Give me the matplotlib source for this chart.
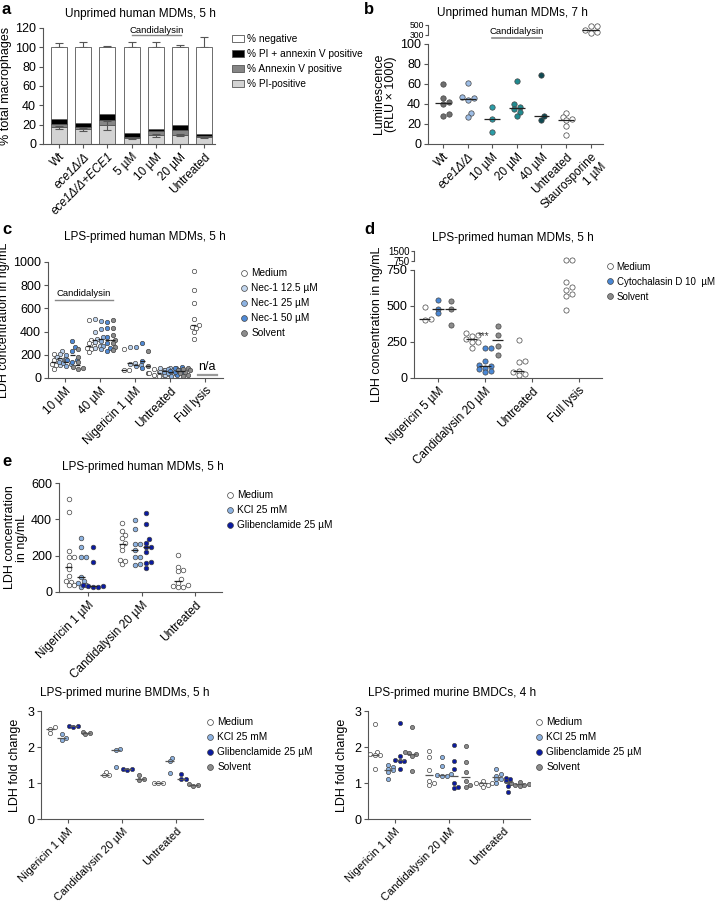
import numpy as np
import matplotlib
matplotlib.use("Agg")
import matplotlib.pyplot as plt
from matplotlib.lines import Line2D
from matplotlib.patches import Patch

plt.rcParams['font.family'] = ['Liberation Sans', 'DejaVu Sans']
plt.rcParams['axes.linewidth'] = 0.8

W, H = 717, 902
fig = plt.figure(figsize=(W / 100, H / 100), dpi=100)

EDGE = '#444444'
SPINE = '#555555'

# ---------------- data ----------------
# a: stacked bars (segment heights)
a_labels = ['Wt', 'ece1Δ/Δ', 'ece1Δ/Δ+ECE1', '5 µM', '10 µM', '20 µM', 'Untreated']
a_pi = [17.4, 15.3, 19.4, 5.9, 9.0, 9.0, 7.6]
a_annexin = [3.4, 2.1, 5.6, 1.7, 4.5, 5.6, 1.1]
a_both = [4.9, 4.1, 6.3, 4.2, 2.1, 5.2, 1.7]
a_both_err = [3.1, 2.1, 0.7, 3.5, 2.8, 1.0, 5.6]
a_pi_err = [1.5, 1.5, 4.5, 1.2, 1.5, 1.2, 1.0]
a_top_err = [4.9, 6.0, 1.4, 5.6, 6.0, 2.8, 10.4]

# b: luminescence (RLU x 1000)
b_labels = ['Wt', 'ece1Δ/Δ', '10 µM', '20 µM', '40 µM', 'Untreated', 'Staurosporine\n1 µM']
b_wt = [60.5, 45.8, 41.8, 40.0, 30.0, 28.0]
b_ece1 = [61.0, 47.0, 46.0, 44.0, 31.0, 27.0]
b_10 = [37.5, 25.5, 12.0]
b_20 = [63.5, 40.0, 37.0, 35.0, 32.5, 28.5]
b_40 = [69.0, 28.0, 24.0]
b_untr = [31.0, 27.5, 25.0, 24.0, 18.0, 9.0]
b_stauro = [480, 475, 400, 360, 340]
b_colors = ['#6e6e6e', '#9dbde6', '#2a9da8', '#1f8a8f', '#0f4a52', 'white', 'white']

# c: LDH ng/mL, subgroups Medium / Nec-1 12.5 / 25 / 50 / Solvent
c_labels = ['10 µM', '40 µM', 'Nigericin 1 µM', 'Untreated', 'Full lysis']
c_series = ['Medium', 'Nec-1 12.5 µM', 'Nec-1 25 µM', 'Nec-1 50 µM', 'Solvent']
c_colors = ['white', '#c2d6ee', '#8db3e2', '#4f8ad6', '#8c8c8c']
c_10 = [[180, 123, 80, 108, 151, 208], [237, 208, 166, 108, 151, 180],
        [200, 160, 130, 100, 140, 120], [317, 266, 237, 151, 137, 151],
        [251, 180, 137, 94, 80, 90]]
c_40 = [[500, 330, 300, 280, 250, 220, 260], [510, 400, 340, 310, 280, 260],
        [490, 420, 350, 320, 280, 250], [480, 430, 350, 300, 260, 230],
        [500, 430, 370, 330, 300, 270, 240]]
c_nig = [[250, 70, 70], [270, 130, 120], [270, 110, 100], [300, 150, 90], [230, 100, 40]]
c_untr = [[20, 30, 45, 60, 70, 35, 25, 80], [30, 50, 70, 85, 90, 40, 60],
          [20, 45, 65, 80, 90, 55, 35], [25, 50, 70, 85, 60, 40, 95],
          [30, 55, 80, 90, 70, 45, 20, 65]]
c_lysis = [920, 760, 650, 510, 460, 440, 430, 400, 340]

# d: LDH ng/mL, Medium / Cytochalasin D / Solvent
d_labels = ['Nigericin 5 µM', 'Candidalysin 20 µM', 'Untreated', 'Full lysis']
d_series = ['Medium', 'Cytochalasin D 10  µM', 'Solvent']
d_colors = ['white', '#4a88d6', '#8c8c8c']
d_nig = [[490, 410, 400], [540, 480, 450], [535, 480, 365]]
d_cand = [[310, 300, 290, 270, 250, 250, 210], [210, 205, 120, 90, 80, 70, 60, 50, 40],
          [360, 300, 225, 160]]
d_untr = [265, 120, 110, 50, 40, 30, 20]
d_lysis_main = [670, 630, 610, 580, 570, 470]
d_lysis_top = [820, 790]

# e: LDH ng/mL, Medium / KCl / Glibenclamide
e_labels = ['Nigericin 1 µM', 'Candidalysin 20 µM', 'Untreated']
e_series = ['Medium', 'KCl 25 mM', 'Glibenclamide 25 µM']
e_colors = ['white', '#8db3e2', '#0a1aa0']
e_nig = [[510, 440, 225, 190, 190, 150, 125, 90, 55, 40, 40, 60],
         [300, 245, 190, 190, 85, 60, 50, 30, 40],
         [245, 165, 35, 30, 25, 35, 40]]
e_cand = [[380, 335, 315, 295, 270, 255, 230, 175, 155, 170],
          [395, 345, 265, 265, 230, 195, 190, 155, 150],
          [435, 375, 290, 270, 250, 245, 220, 165, 160, 130]]
e_untr = [205, 140, 120, 115, 70, 50, 40, 35, 25, 30]

# f, g: LDH fold change, Medium / KCl / Glibenclamide / Solvent
fg_labels = ['Nigericin 1 µM', 'Candidalysin 20 µM', 'Untreated']
fg_series = ['Medium', 'KCl 25 mM', 'Glibenclamide 25 µM', 'Solvent']
fg_colors = ['white', '#8db3e2', '#0a1aa0', '#8c8c8c']
f_vals = [
    [[2.55, 2.5, 2.38], [2.35, 2.25, 2.2], [2.58, 2.57, 2.55], [2.42, 2.38, 2.35]],
    [[1.3, 1.23, 1.22], [1.95, 1.92, 1.45], [1.4, 1.38, 1.36], [1.22, 1.1, 1.08]],
    [[1.0, 1.0, 1.0], [1.7, 1.62, 1.28], [1.25, 1.12, 1.1], [0.98, 0.95, 0.93]],
]
g_vals = [
    [[2.65, 1.87, 1.8, 1.78, 1.78, 1.4], [1.5, 1.45, 1.4, 1.35, 1.3, 1.12],
     [2.68, 1.75, 1.65, 1.62, 1.6, 1.38], [2.55, 1.85, 1.82, 1.8, 1.75, 1.33]],
    [[1.88, 1.72, 1.37, 1.05, 1.0, 0.95], [1.72, 1.48, 1.25, 1.22, 1.2, 1.2],
     [2.05, 1.6, 1.38, 1.0, 0.88, 0.85], [2.02, 1.58, 1.3, 1.05, 0.95, 0.9]],
    [[1.05, 1.0, 1.0, 0.98, 0.95, 0.9], [1.4, 1.25, 1.2, 1.12, 1.1, 1.0],
     [1.15, 1.1, 1.05, 1.0, 0.92, 0.75], [1.02, 1.0, 0.98, 0.95, 0.95, 0.92]],
]


# ---------------- helpers ----------------
def add_ax(l, t, r, b):
    return fig.add_axes([l / W, 1 - b / H, (r - l) / W, (b - t) / H])


def style(ax, xlim, ylim, yticks, fs=9):
    ax.set_xlim(*xlim)
    ax.set_ylim(*ylim)
    ax.set_yticks(yticks)
    for s in ['top', 'right']:
        ax.spines[s].set_visible(False)
    for s in ['left', 'bottom']:
        ax.spines[s].set_color(SPINE)
    ax.tick_params(length=3, width=0.8, color=SPINE, labelsize=fs, pad=2)


def xlabels(ax, labels, fs=8.5):
    ax.set_xticks(range(len(labels)))
    ax.set_xticklabels(labels, rotation=45, ha='right', rotation_mode='anchor', fontsize=fs)


def swarm(ax, x0, vals, color, s=12, med=True, medw=0.08, medc='#222222', clip=True):
    vals = np.asarray(vals, float)
    bb = ax.get_position()
    xl, yl = ax.get_xlim(), ax.get_ylim()
    xu = bb.width * W / (xl[1] - xl[0])
    yu = bb.height * H / (yl[1] - yl[0])
    d = np.sqrt(s) * 100 / 72
    order = np.argsort(vals)
    placed = []
    xs = np.zeros(len(vals))
    for i in order:
        yp = vals[i] * yu
        for k in [0, 1, -1, 2, -2, 3, -3, 4, -4, 5, -5]:
            xp = k * d * 0.55
            if all((xp - a) ** 2 + (yp - b) ** 2 >= (0.8 * d) ** 2 for a, b in placed):
                break
        placed.append((xp, yp))
        xs[i] = x0 + xp / xu
    ax.scatter(xs, vals, s=s, c=color, edgecolors=EDGE, linewidths=0.5,
               zorder=3, clip_on=clip)
    if med:
        m = np.median(vals)
        ax.plot([x0 - medw, x0 + medw], [m, m], color=medc, lw=0.9, zorder=4,
                solid_capstyle='butt', clip_on=clip)


def legend(ax, labels, colors, x, y, ms=4.2, fs=7.3):
    hs = [Line2D([], [], ls='', marker='o', markersize=ms, markerfacecolor=c,
                 markeredgecolor=EDGE, markeredgewidth=0.5) for c in colors]
    ax.legend(hs, labels, loc='upper left', bbox_to_anchor=(x / W, 1 - y / H),
              bbox_transform=fig.transFigure, frameon=False, fontsize=fs,
              handletextpad=0.2, labelspacing=0.5, borderpad=0, handlelength=1.0)


def ftext(x, y, s, **kw):
    fig.text(x / W, 1 - y / H, s, **kw)


# ---------------- panel a ----------------
ax = add_ax(43, 28, 215, 144)
style(ax, (-0.66, 6.45), (0, 120), range(0, 121, 20))
x = np.arange(len(a_labels))
pi = np.array(a_pi)
an = pi + np.array(a_annexin)
bo = an + np.array(a_both)
bw = 0.66
ax.bar(x, pi, bw, color='#d3d3d3', edgecolor=SPINE, lw=0.6, zorder=2)
ax.bar(x, a_annexin, bw, bottom=pi, color='#858585', edgecolor=SPINE, lw=0.6, zorder=2)
ax.bar(x, a_both, bw, bottom=an, color='black', edgecolor=SPINE, lw=0.6, zorder=2)
ax.bar(x, 100 - bo, bw, bottom=bo, color='white', edgecolor=SPINE, lw=0.6, zorder=2)
ax.errorbar(x, bo, yerr=[np.zeros(7), a_both_err], fmt='none', ecolor=SPINE,
            elinewidth=0.8, capsize=3, capthick=0.8, zorder=1)
ax.errorbar(x, pi, yerr=a_pi_err, fmt='none', ecolor=SPINE,
            elinewidth=0.8, capsize=3, capthick=0.8, zorder=3)
ax.errorbar(x, np.full(7, 100.0), yerr=[np.zeros(7), a_top_err], fmt='none',
            ecolor=SPINE, elinewidth=0.8, capsize=3, capthick=0.8, zorder=1)
xlabels(ax, a_labels)
for i in (1, 2):
    ax.get_xticklabels()[i].set_fontstyle('italic')
ax.set_ylabel('% total macrophages', fontsize=9, labelpad=2)
ax.plot([3.0, 5.05], [112.5, 112.5], color='#888888', lw=1.0, clip_on=False)
ax.text(4.02, 117, 'Candidalysin', ha='center', va='center', fontsize=6.8)
hs = [Patch(facecolor=c, edgecolor=SPINE, lw=0.6) for c in ['white', 'black', '#858585', '#d3d3d3']]
ax.legend(hs, ['% negative', '% PI + annexin V positive', '% Annexin V positive', '% PI-positive'],
          loc='upper left', bbox_to_anchor=(227 / W, 1 - 29 / H), bbox_transform=fig.transFigure,
          frameon=False, fontsize=7.3, handlelength=1.2, handleheight=0.6,
          handletextpad=0.3, labelspacing=0.5, borderpad=0)
ftext(140, 14, 'Unprimed human MDMs, 5 h', ha='center', va='center', fontsize=8.5)
ftext(2, 9, 'a', ha='left', va='center', fontsize=12, fontweight='bold')

# ---------------- panel b ----------------
ax = add_ax(428, 44, 603, 144)
style(ax, (-0.61, 6.5), (0, 100), range(0, 101, 20))
groups = [b_wt, b_ece1, b_10, b_20, b_40, b_untr]
for i, g in enumerate(groups):
    swarm(ax, i, g, b_colors[i], s=15, medw=0.32)
xlabels(ax, b_labels)
ax.get_xticklabels()[1].set_fontstyle('italic')
ax.set_ylabel('Luminescence\n(RLU × 1000)', fontsize=9, labelpad=2, linespacing=1.0)
axt = add_ax(428, 25, 603, 35)
axt.patch.set_visible(False)
style(axt, (-0.61, 6.5), (300, 500), [300, 500], fs=6.2)
axt.spines['bottom'].set_visible(False)
axt.set_xticks([])
axt.tick_params(axis='y', pad=1, length=2)
swarm(axt, 6, b_stauro, 'white', s=15, medw=0.35, clip=False)
ax.plot([2, 4], [106, 106], color='#888888', lw=1.2, clip_on=False)
ax.text(3, 113, 'Candidalysin', ha='center', va='center', fontsize=6.8)
ftext(512, 13, 'Unprimed human MDMs, 7 h', ha='center', va='center', fontsize=8.5)
ftext(364, 9, 'b', ha='left', va='center', fontsize=12, fontweight='bold')

# ---------------- panel c ----------------
ax = add_ax(48, 262, 223, 378)
style(ax, (-0.49, 4.51), (0, 1000), range(0, 1001, 200))
c_off = [-0.32, -0.15, 0.02, 0.2, 0.36]
for gi, grp in enumerate([c_10, c_40, c_nig, c_untr]):
    for si, v in enumerate(grp):
        swarm(ax, gi + c_off[si], v, c_colors[si], s=10, medw=0.07)
swarm(ax, 4 + c_off[0], c_lysis, 'white', s=10, medw=0.07)
ax.plot([3.8, 4.35], [30, 30], color='#999999', lw=1.6)
ax.text(4.05, 45, 'n/a', ha='center', va='bottom', fontsize=9)
ax.plot([-0.29, 1.37], [672, 672], color='#888888', lw=1.0)
ax.text(0.54, 730, 'Candidalysin', ha='center', va='center', fontsize=6.8)
xlabels(ax, c_labels)
ax.set_ylabel('LDH concentration in ng/mL', fontsize=9, labelpad=2)
legend(ax, c_series, c_colors, 234, 263)
ftext(145, 237, 'LPS-primed human MDMs, 5 h', ha='center', va='center', fontsize=8.5)
ftext(2, 230, 'c', ha='left', va='center', fontsize=12, fontweight='bold')

# ---------------- panel d ----------------
ax = add_ax(414, 270, 602, 378)
style(ax, (-0.51, 3.49), (0, 750), [0, 250, 500, 750])
d_off = [-0.28, 0.0, 0.27]
for si, v in enumerate(d_nig):
    swarm(ax, 0 + d_off[si], v, d_colors[si], s=14, medw=0.12)
for si, v in enumerate(d_cand):
    swarm(ax, 1 + d_off[si], v, d_colors[si], s=14, medw=0.12)
swarm(ax, 2 + d_off[0], d_untr, 'white', s=14, medw=0.12)
swarm(ax, 3 + d_off[0], d_lysis_main, 'white', s=14, med=False)
ax.text(0.97, 255, '***', ha='center', va='bottom', fontsize=7, color='#333333')
xlabels(ax, d_labels)
ax.set_ylabel('LDH concentration in ng/mL', fontsize=9, labelpad=2)
axt = add_ax(414, 251, 602, 261)
axt.patch.set_visible(False)
style(axt, (-0.51, 3.49), (750, 1500), [750, 1500], fs=7)
axt.spines['bottom'].set_visible(False)
axt.set_xticks([])
axt.tick_params(axis='y', pad=1, length=2)
swarm(axt, 3 + d_off[0], d_lysis_top, 'white', s=14, med=False, clip=False)
legend(ax, d_series, d_colors, 600, 257, fs=7)
ftext(513, 238, 'LPS-primed human MDMs, 5 h', ha='center', va='center', fontsize=8.5)
ftext(364, 230, 'd', ha='left', va='center', fontsize=12, fontweight='bold')

# ---------------- panel e ----------------
ax = add_ax(59, 483, 222, 592)
style(ax, (-0.54, 2.5), (0, 600), range(0, 601, 200))
e_off = [-0.36, -0.13, 0.09]
for gi, grp in enumerate([e_nig, e_cand]):
    for si, v in enumerate(grp):
        swarm(ax, gi + e_off[si], v, e_colors[si], s=11, medw=0.07)
swarm(ax, 2 - 0.32, e_untr, 'white', s=11, medw=0.07)
xlabels(ax, e_labels)
ax.set_ylabel('LDH concentration\nin ng/mL', fontsize=9, labelpad=2, linespacing=1.0)
legend(ax, e_series, e_colors, 220, 485)
ftext(143, 467, 'LPS-primed human MDMs, 5 h', ha='center', va='center', fontsize=8.5)
ftext(2, 462, 'e', ha='left', va='center', fontsize=12, fontweight='bold')

# ---------------- panels f, g ----------------
for vals, box, off, title, tx, lx in [
        (f_vals, (41, 711, 203, 819), [-0.33, -0.12, 0.1, 0.32],
         'LPS-primed murine BMDMs, 5 h', 125, 200),
        (g_vals, (368, 711, 530, 819), [-0.37, -0.13, 0.09, 0.31],
         'LPS-primed murine BMDCs, 4 h', 452, 529)]:
    ax = add_ax(*box)
    style(ax, (-0.5, 2.5), (0, 3), [0, 1, 2, 3])
    for gi, grp in enumerate(vals):
        for si, v in enumerate(grp):
            swarm(ax, gi + off[si], v, fg_colors[si], s=9, medw=0.08, medc='#555555')
    xlabels(ax, fg_labels, fs=8)
    ax.set_ylabel('LDH fold change', fontsize=9, labelpad=4)
    legend(ax, fg_series, fg_colors, lx, 712)
    ftext(tx, 693, title, ha='center', va='center', fontsize=8.5)

fig.savefig('out.png', dpi=100)
